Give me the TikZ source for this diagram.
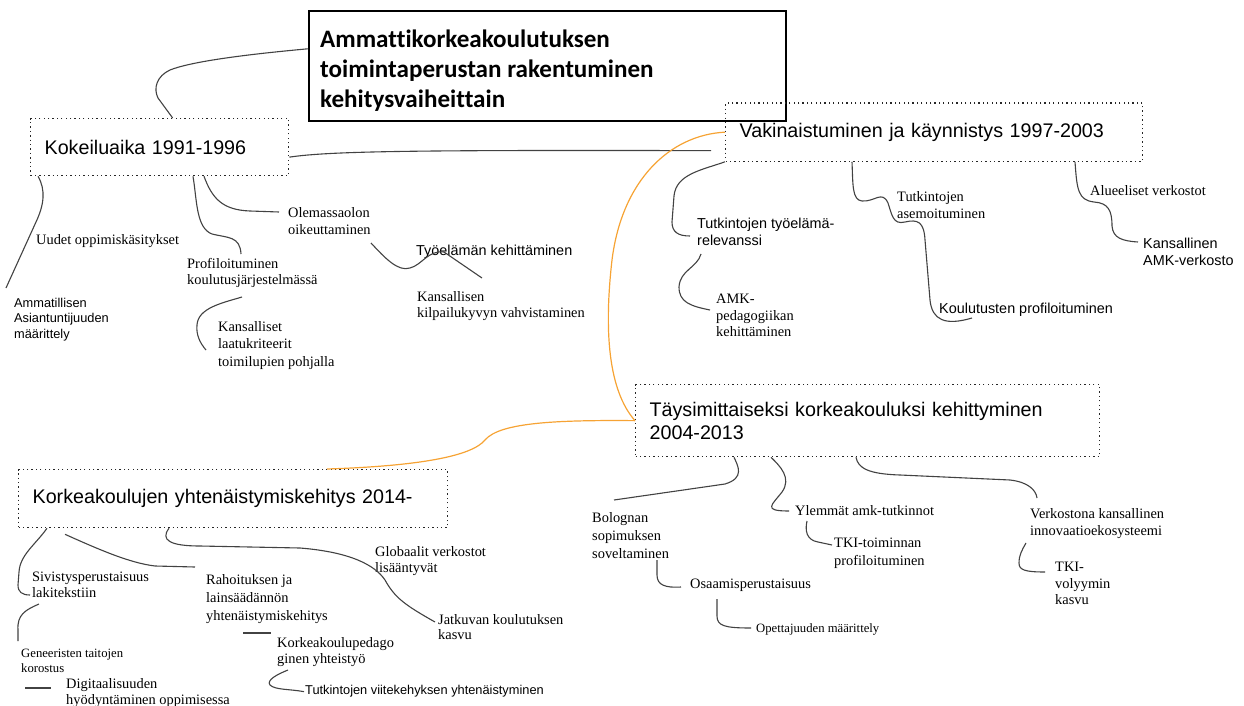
\documentclass[tikz,border=0pt]{standalone}
\usepackage{fontspec}
\setmainfont{Liberation Serif}
\setsansfont{Liberation Sans}
\newfontfamily\calibrifont[Ligatures=NoCommon]{Carlito}
\usetikzlibrary{calc}
\definecolor{linkgray}{RGB}{66,66,66}
\definecolor{linkorange}{RGB}{246,163,52}

\begin{document}
\begin{tikzpicture}[x=1pt,y=-1pt,
	link/.style={draw=linkgray,line width=1.1pt},
	orange link/.style={draw=linkorange,line width=1.2pt},
	phase/.style={draw=black!85,line width=1.3pt,dash pattern=on 1.3pt off 3.1pt,anchor=north west,inner xsep=14pt,inner ysep=0pt,align=left,font=\sffamily\fontsize{19.7}{23}\selectfont},
	titlebox/.style={draw=black,line width=1.6pt,anchor=north west,minimum width=477pt,minimum height=110pt,inner sep=0pt},
	titletext/.style={inner sep=0pt,anchor=north west,align=left,font=\calibrifont\bfseries\fontsize{25.1}{30}\selectfont},
	lbl/.style={inner sep=0pt,anchor=north west,align=left,font=\fontsize{14.4}{#1}\selectfont},
	lbl/.default=17,
	lbl small/.style={inner sep=0pt,anchor=north west,align=left,font=\fontsize{12.7}{15}\selectfont},
	slbl/.style={inner sep=0pt,anchor=north west,align=left,font=\sffamily\fontsize{14.4}{16.5}\selectfont},
	slbl small/.style={inner sep=0pt,anchor=north west,align=left,font=\sffamily\fontsize{12.8}{15.5}\selectfont}]
	\useasboundingbox (0,0) rectangle (1244,706);
	
	%TITLE
	\node[titlebox] (title) at (308,10) {};
	\node[titletext] (titletxt) at (320,30) {Ammattikorkeakoulutuksen\\toimintaperustan rakentuminen\\kehitysvaiheittain};
	
	%PHASE BOXES
	\foreach \nm/\x/\y/\w/\h/\tw/\txt in {kok/30/118/258/57/230/{Kokeiluaika 1991-1996},
		vak/725/102.5/417/58/389/{Vakinaistuminen ja käynnistys 1997-2003},
		tay/635/384/464/72/436/{Täysimittaiseksi korkeakouluksi kehittyminen\\2004-2013},
		kork/18/469/429/58/401/{Korkeakoulujen yhtenäistymiskehitys 2014-}}{
		\node[phase,minimum width=\w pt,minimum height=\h pt,text width=\tw pt] (\nm) at (\x,\y) {\txt};
	}
	
	%KOKEILUAIKA
	\node[lbl] (uudet) at (36,234) {Uudet oppimiskäsitykset};
	\node[slbl small] (ammat) at (14,298) {Ammatillisen\\Asiantuntijuuden\\määrittely};
	\node[lbl=16] (profi) at (187,258) {Profiloituminen\\koulutusjärjestelmässä};
	\node[lbl] (olema) at (288,207) {Olemassaolon\\oikeuttaminen};
	\node[slbl] (tyoel) at (416,245) {Työelämän kehittäminen};
	\node[lbl=16] (kilpa) at (417,291) {Kansallisen\\kilpailukyvyn vahvistaminen};
	\node[lbl=17.5] (laatu) at (218,321) {Kansalliset\\laatukriteerit\\toimilupien pohjalla};
	
	%VAKINAISTUMINEN
	\node[slbl] (relev) at (697,218) {Tutkintojen työelämä-\\relevanssi};
	\node[lbl=16.5] (amkped) at (716,294) {AMK-\\pedagogiikan\\kehittäminen};
	\node[lbl] (asemo) at (897,191) {Tutkintojen\\asemoituminen};
	\node[slbl] (koulpro) at (939,303) {Koulutusten profiloituminen};
	\node[lbl] (aluee) at (1090,185) {Alueeliset verkostot};
	\node[slbl] (amkver) at (1143,238) {Kansallinen\\AMK-verkosto};
	
	%TAYSIMITTAISEKSI
	\node[lbl=18] (bolog) at (592,512) {Bolognan\\sopimuksen\\soveltaminen};
	\node[lbl] (ylemm) at (795,505) {Ylemmät amk-tutkinnot};
	\node[lbl] (verko) at (1030,508) {Verkostona kansallinen\\innovaatioekosysteemi};
	\node[lbl=18] (tkipro) at (834,538) {TKI-toiminnan\\profiloituminen};
	\node[lbl] (osaam) at (690,579) {Osaamisperustaisuus};
	\node[lbl small] (opett) at (756,623.5) {Opettajuuden määrittely};
	\node[lbl=16.5] (tkivol) at (1055,562) {TKI-\\volyymin\\kasvu};
	
	%KORKEAKOULUJEN
	\node[lbl=16] (sivis) at (32,572) {Sivistysperustaisuus\\lakitekstiin};
	\node[lbl=18] (rahoi) at (206,574) {Rahoituksen ja\\lainsäädännön\\yhtenäistymiskehitys};
	\node[lbl=16] (globa) at (375,546) {Globaalit verkostot\\lisääntyvät};
	\node[lbl=15.5] (jatku) at (438,614) {Jatkuvan koulutuksen\\kasvu};
	\node[lbl small] (genee) at (21,648.5) {Geneeristen taitojen\\korostus};
	\node[lbl=16] (kkped) at (277,637) {Korkeakoulupedago\\ginen yhteistyö};
	\node[slbl small] (viite) at (305,685.5) {Tutkintojen viitekehyksen yhtenäistyminen};
	\node[lbl=16] (digit) at (66,678) {Digitaalisuuden\\hyödyntäminen oppimisessa};
	
	%TITLE AND PHASE LINKS
	\draw[link] ([shift={(0,-17)}]title.west) .. controls (240,55) and (190,62) .. (170,70) .. controls (157,76) and (153,88) .. (158,98) -- ([shift={(13,0)}]kok.north);
	\draw[link] ([shift={(0,10)}]kok.east) .. controls (330,151) and (420,150) .. ([shift={(-14,18.5)}]vak.west);
	\draw[orange link] (vak.west) .. controls (670,135) and (622,180) .. (612,260) .. controls (604,330) and (608,390) .. (tay.west);
	\draw[orange link] (tay.west) .. controls (560,420) and (500,422) .. (485,440) .. controls (472,456) and (420,466) .. ([shift={(309,0)}]kork.north west);
	
	%KOKEILUAIKA LINKS
	\draw[link] ([shift={(8,0)}]kok.south west) .. controls (46,190) and (44,205) .. (36,222) -- ([shift={(-8,-10)}]ammat.north west);
	\draw[link] ([shift={(163,0)}]kok.south west) .. controls (197,200) and (196,228) .. (212,234) .. controls (228,238) and (240,236) .. ([shift={(54,-4)}]profi.north west);
	\draw[link] ([shift={(174,0)}]kok.south west) .. controls (212,198) and (222,210) .. (250,211) -- ([shift={(-9,5)}]olema.north west);
	\draw[link] ([shift={(83,36)}]olema.north west) .. controls (385,258) and (398,272) .. (410,268) .. controls (422,265) and (428,250) .. (444,252) -- ([shift={(65,-13)}]kilpa.north west);
	\draw[link] ([shift={(55,39)}]profi.north west) .. controls (222,303) and (198,308) .. (197,325) .. controls (196,335) and (200,343) .. ([shift={(-12,29)}]laatu.north west);
	
	%VAKINAISTUMINEN LINKS
	\draw[link] (vak.south west) .. controls (702,170) and (676,174) .. (674,196) -- (672,222) .. controls (672,232) and (678,236) .. ([shift={(-7,18)}]relev.north west);
	\draw[link] ([shift={(4,36)}]relev.north west) .. controls (697,268) and (680,270) .. (679,287) .. controls (679,302) and (690,306) .. ([shift={(-6,16)}]amkped.north west);
	\draw[link] ([shift={(127,0)}]vak.south west) .. controls (853,185) and (852,200) .. (862,201) .. controls (875,202) and (882,190) .. (888,203) .. controls (892,215) and (893,225) .. (905,222) .. controls (918,219) and (924,222) .. (925,240) -- (930,300) .. controls (932,320) and (945,326) .. ([shift={(33,15)}]koulpro.north west);
	\draw[link] ([shift={(350,0)}]vak.south west) .. controls (1077,190) and (1078,200) .. (1094,202) .. controls (1108,203) and (1112,210) .. (1112,226) .. controls (1113,238) and (1122,241) .. ([shift={(-5,4)}]amkver.north west);
	
	%TAYSIMITTAISEKSI LINKS
	\draw[link] ([shift={(99,0)}]tay.south west) .. controls (738,466) and (745,478) .. (725,484) -- ([shift={(22,-12)}]bolog.north west);
	\draw[link] ([shift={(136,0)}]tay.south west) .. controls (780,466) and (792,478) .. (782,492) .. controls (772,505) and (762,511) .. ([shift={(-6,6)}]ylemm.north west);
	\draw[link] ([shift={(221,0)}]tay.south west) .. controls (858,468) and (868,474) .. (900,475) -- (1010,480) .. controls (1028,482) and (1036,490) .. ([shift={(7,-10)}]verko.north west);
	\draw[link] ([shift={(12,16)}]ylemm.north west) .. controls (805,530) and (806,540) .. (818,542) -- ([shift={(-2,7)}]tkipro.north west);
	\draw[link] ([shift={(65,48)}]bolog.north west) -- (657,575) .. controls (657,585) and (665,588) .. ([shift={(-9,8)}]osaam.north west);
	\draw[link] ([shift={(27,20)}]osaam.north west) -- (717,616) .. controls (717,626) and (725,628) .. ([shift={(-5,4.5)}]opett.north west);
	\draw[link] ([shift={(-4,35)}]verko.north west) .. controls (1022,550) and (1019,555) .. (1019,563) .. controls (1019,570) and (1025,572) .. ([shift={(-10,10)}]tkivol.north west);
	
	%KORKEAKOULUJEN LINKS
	\draw[link] ([shift={(29,0)}]kork.south west) .. controls (35,545) and (20,555) .. (19,572) -- (18,585) .. controls (18,592) and (22,595) .. ([shift={(-2,23)}]sivis.north west);
	\draw[link] ([shift={(47,6)}]kork.south west) .. controls (100,550) and (130,563) .. (155,566) -- ([shift={(-11,-7)}]rahoi.north west);
	\draw[link] ([shift={(151,0)}]kork.south west) .. controls (160,540) and (170,546) .. (200,546) -- (300,548) .. controls (350,552) and (375,565) .. (385,580) .. controls (395,598) and (405,605) .. ([shift={(-3,8)}]jatku.north west);
	\draw[link] ([shift={(7,32)}]sivis.north west) .. controls (25,610) and (17,615) .. (18,630) -- ([shift={(-3,-7.5)}]genee.north west);
	\draw[link] ([shift={(37,59)}]rahoi.north west) -- ([shift={(-6,-4)}]kkped.north west);
	\draw[link] ([shift={(11,33)}]kkped.north west) .. controls (278,674) and (266,680) .. (270,685) .. controls (275,690) and (290,689) .. ([shift={(-1,0)}]viite.west);
	\draw[link] ([shift={(-41,10)}]digit.north west) -- ([shift={(-15,10)}]digit.north west);
\end{tikzpicture}
\end{document}
